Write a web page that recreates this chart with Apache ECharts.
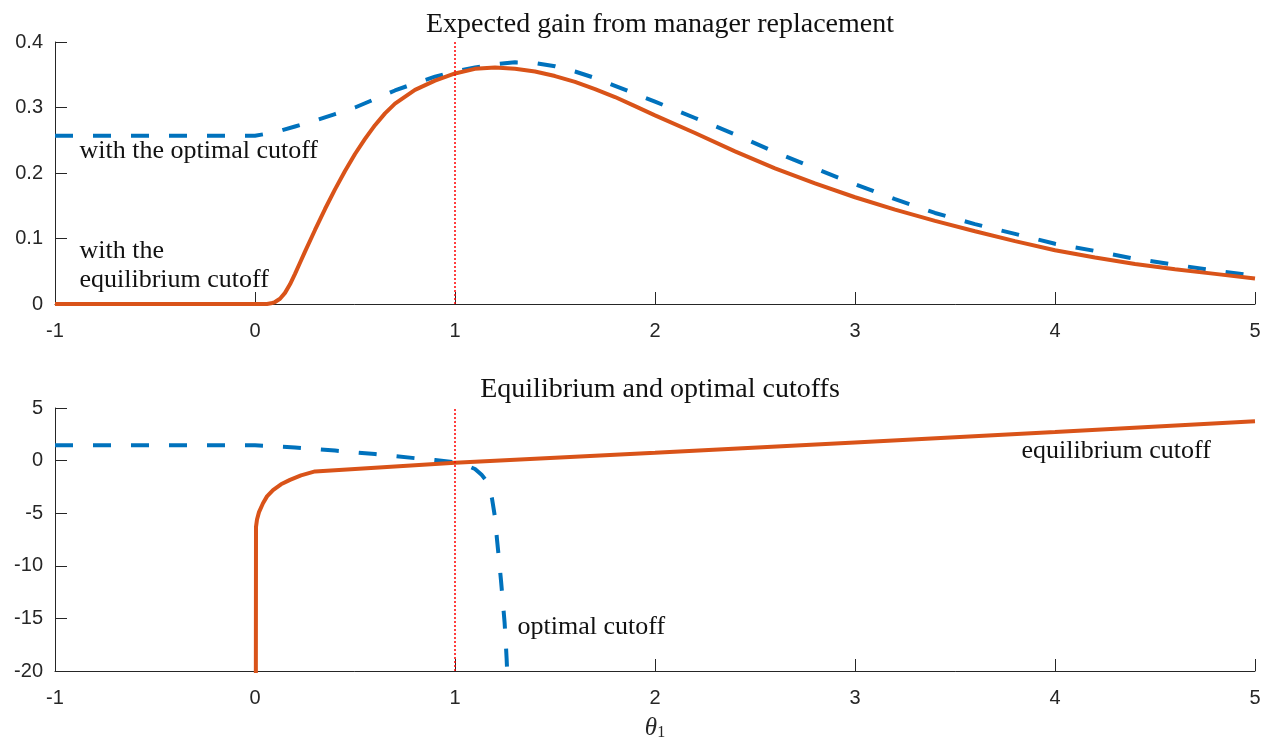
<!DOCTYPE html>
<html>
<head>
<meta charset="utf-8">
<script src="https://cdn.jsdelivr.net/npm/echarts@6/dist/echarts.min.js"></script>
<style>
html,body{margin:0;padding:0;background:#fff;}
#main{width:1274px;height:744px;}
</style>
</head>
<body>
<div id="main"></div>
<script>
// ---- Data ----
// Top panel: expected gain from manager replacement
const gainOptX = [-1, -0.5, 0, 0.1, 0.2, 0.3, 0.4, 0.5, 0.6, 0.7, 0.8, 0.9, 1.0, 1.1, 1.2, 1.3, 1.4, 1.5, 1.6, 1.7, 1.8, 1.9, 2.0, 2.2, 2.4, 2.6, 2.8, 3.0, 3.2, 3.4, 3.6, 3.8, 4.0, 4.2, 4.4, 4.6, 4.8, 5.0];
const gainOptY = [0.257, 0.257, 0.257, 0.262, 0.271, 0.280, 0.290, 0.300, 0.313, 0.326, 0.337, 0.347, 0.355, 0.361, 0.366, 0.369, 0.368, 0.363, 0.355, 0.345, 0.333, 0.321, 0.309, 0.284, 0.259, 0.232, 0.207, 0.183, 0.160, 0.139, 0.122, 0.107, 0.092, 0.081, 0.069, 0.060, 0.051, 0.043];

const gainEqX = [-1, -0.5, 0, 0.06, 0.08, 0.1, 0.125, 0.15, 0.175, 0.2, 0.225, 0.25, 0.3, 0.35, 0.4, 0.45, 0.5, 0.55, 0.6, 0.65, 0.7, 0.8, 0.9, 1.0, 1.1, 1.2, 1.3, 1.4, 1.5, 1.6, 1.7, 1.8, 1.9, 2.0, 2.2, 2.4, 2.6, 2.8, 3.0, 3.2, 3.4, 3.6, 3.8, 4.0, 4.2, 4.4, 4.6, 4.8, 5.0];
const gainEqY = [0, 0, 0, 0, 0.001, 0.003, 0.008, 0.017, 0.030, 0.046, 0.063, 0.080, 0.113, 0.145, 0.175, 0.203, 0.229, 0.252, 0.273, 0.291, 0.306, 0.327, 0.341, 0.352, 0.359, 0.361, 0.359, 0.355, 0.348, 0.339, 0.328, 0.316, 0.302, 0.288, 0.261, 0.233, 0.207, 0.184, 0.163, 0.144, 0.127, 0.111, 0.096, 0.082, 0.071, 0.061, 0.053, 0.046, 0.039];

// Bottom panel: equilibrium and optimal cutoffs
const cutOptX = [-1, -0.5, 0, 0.2, 0.4, 0.6, 0.8, 0.9, 1.0, 1.05, 1.1, 1.133, 1.165, 1.185, 1.2, 1.21, 1.22, 1.23, 1.24, 1.248, 1.253, 1.258, 1.262];
const cutOptY = [1.45, 1.45, 1.45, 1.25, 0.95, 0.62, 0.23, 0.05, -0.17, -0.4, -0.8, -1.35, -2.1, -3.6, -5.4, -7.5, -9.4, -11.4, -13.6, -15.4, -17.0, -18.8, -20.5];

const cutEqX = [0.004, 0.005, 0.01, 0.02, 0.04, 0.06, 0.09, 0.13, 0.175, 0.23, 0.3, 1.0, 2.0, 3.0, 4.0, 5.0];
const cutEqY = [-25, -6.3, -5.6, -4.9, -4.05, -3.4, -2.8, -2.25, -1.83, -1.4, -1.03, -0.2, 0.75, 1.72, 2.72, 3.73];

const refLineX = 1;

const topTicks = {min: 0, max: 0.4, interval: 0.1};
const botTicks = {min: -20, max: 5, interval: 5};
const xTicks = {min: -1, max: 5, interval: 1};

const titles = ['Expected gain from manager replacement', 'Equilibrium and optimal cutoffs'];
const notes = {
  topOpt: {x: -0.88, y: 0.233, text: 'with the optimal cutoff'},
  topEq: {x: -0.88, y: 0.059, text: 'with the\nequilibrium cutoff'},
  botEq: {x: 3.83, y: 0.87, text: 'equilibrium cutoff'},
  botOpt: {x: 1.31, y: -15.8, text: 'optimal cutoff'}
};

// ---- Chart ----
const zip = (xs, ys) => xs.map((x, i) => [x, ys[i]]);
const BLUE = '#0072BD', ORANGE = '#D95319', AX = '#262626';
const SERIF = '"Liberation Serif", "DejaVu Serif", serif';
const SANS = '"Liberation Sans", Arial, Helvetica, sans-serif';

function xAxisCfg(gi, withName) {
  const c = {
    type: 'value', gridIndex: gi, min: xTicks.min, max: xTicks.max, interval: xTicks.interval,
    axisLine: {show: true, onZero: false, lineStyle: {color: AX, width: 1}},
    axisTick: {show: true, inside: true, length: 12, lineStyle: {color: AX}},
    axisLabel: {color: AX, fontSize: 20, fontFamily: SANS, margin: 17},
    splitLine: {show: false}
  };
  if (withName) {
    c.name = '{i|θ}{s|1}';
    c.nameLocation = 'middle';
    c.nameGap = 44;
    c.nameTextStyle = {
      rich: {
        i: {fontFamily: SERIF, fontStyle: 'italic', fontSize: 25, color: AX},
        s: {fontFamily: SERIF, fontSize: 16, color: AX, verticalAlign: 'bottom', padding: [10, 0, 0, 0]}
      }
    };
  }
  return c;
}
function yAxisCfg(gi, t, fmt) {
  return {
    type: 'value', gridIndex: gi, min: t.min, max: t.max, interval: t.interval,
    axisLine: {show: true, onZero: false, lineStyle: {color: AX, width: 1}},
    axisTick: {show: true, inside: true, length: 12, lineStyle: {color: AX}},
    axisLabel: {color: AX, fontSize: 20, fontFamily: SANS, margin: 12, formatter: fmt},
    splitLine: {show: false}
  };
}
function note(n) {
  return {
    coord: [n.x, n.y], value: 0,
    label: {formatter: n.text}
  };
}
const noteLabel = {
  show: true, position: 'right', distance: 0, color: '#111', fontFamily: SERIF,
  fontSize: 26, lineHeight: 29, align: 'left', verticalAlign: 'middle'
};
const refLine = {
  silent: true, symbol: ['none', 'none'], label: {show: false},
  lineStyle: {color: '#FF0000', type: [2, 2], width: 1.5},
  data: [{xAxis: refLineX}], animation: false
};

const chart = echarts.init(document.getElementById('main'), null, {renderer: 'canvas'});
chart.setOption({
  animation: false,
  backgroundColor: '#fff',
  title: [
    {text: titles[0], left: 655, top: 6, textAlign: 'center',
     textStyle: {fontFamily: SERIF, fontWeight: 'normal', fontSize: 28, color: '#111'}},
    {text: titles[1], left: 655, top: 371, textAlign: 'center',
     textStyle: {fontFamily: SERIF, fontWeight: 'normal', fontSize: 28, color: '#111'}}
  ],
  grid: [
    {left: 55, right: 19, top: 42, height: 262, containLabel: false, outerBoundsMode: 'none'},
    {left: 55, right: 19, top: 408, height: 263, containLabel: false, outerBoundsMode: 'none'}
  ],
  xAxis: [xAxisCfg(0, false), xAxisCfg(1, true)],
  yAxis: [
    yAxisCfg(0, topTicks, v => (Math.abs(v) < 1e-9 ? '0' : v.toFixed(1))),
    yAxisCfg(1, botTicks, v => String(Math.round(v)))
  ],
  series: [
    {
      type: 'line', xAxisIndex: 0, yAxisIndex: 0, data: zip(gainOptX, gainOptY),
      showSymbol: false, smooth: false, clip: true,
      lineStyle: {color: BLUE, width: 4, type: [18, 20]}, z: 3,
      markLine: refLine,
      markPoint: {symbol: 'circle', symbolSize: 1, itemStyle: {color: 'rgba(0,0,0,0)'},
        label: noteLabel, data: [note(notes.topOpt), note(notes.topEq)]}
    },
    {
      type: 'line', xAxisIndex: 0, yAxisIndex: 0, data: zip(gainEqX, gainEqY),
      showSymbol: false, smooth: false, clip: true,
      lineStyle: {color: ORANGE, width: 4}, z: 4
    },
    {
      type: 'line', xAxisIndex: 1, yAxisIndex: 1, data: zip(cutOptX, cutOptY),
      showSymbol: false, smooth: false, clip: true,
      lineStyle: {color: BLUE, width: 4, type: [18, 20]}, z: 3,
      markLine: refLine,
      markPoint: {symbol: 'circle', symbolSize: 1, itemStyle: {color: 'rgba(0,0,0,0)'},
        label: noteLabel, data: [note(notes.botEq), note(notes.botOpt)]}
    },
    {
      type: 'line', xAxisIndex: 1, yAxisIndex: 1, data: zip(cutEqX, cutEqY),
      showSymbol: false, smooth: false, clip: true,
      lineStyle: {color: ORANGE, width: 4}, z: 4
    }
  ]
});
</script>
</body>
</html>
